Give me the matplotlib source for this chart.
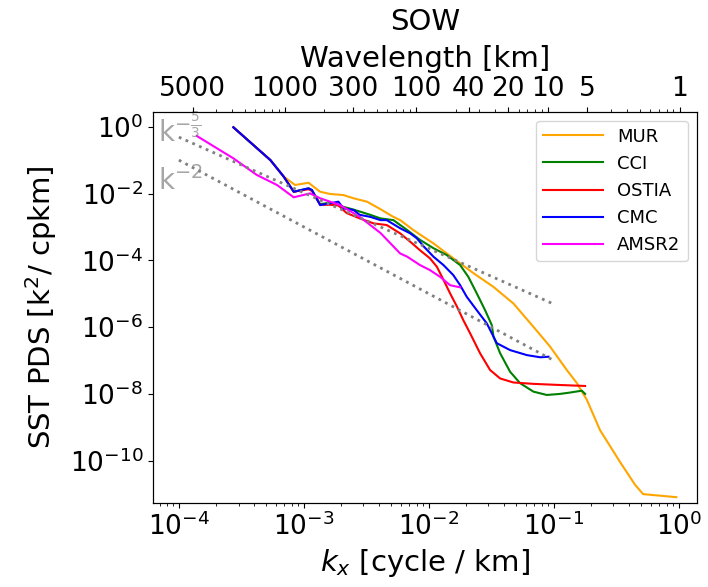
import numpy as np
import matplotlib
matplotlib.use('Agg')
import matplotlib.pyplot as plt

# wavenumber [cycle/km] and PDS values
mur_k = [2.73e-4, 5.4e-4, 6.9e-4, 8.5e-4, 1.09e-3, 1.35e-3, 1.62e-3, 2.07e-3, 2.5e-3,
         3.2e-3, 4.1e-3, 5.2e-3, 5.9e-3, 7.5e-3, 0.0109, 0.0157, 0.0228, 0.0329,
         0.0475, 0.0687, 0.0934, 0.127, 0.153, 0.184, 0.234, 0.339, 0.447, 0.518, 0.955]
mur_p = [0.96, 0.1, 0.032, 0.018, 0.021, 0.0113, 9.7e-3, 9.0e-3, 7.2e-3,
         5.7e-3, 3.4e-3, 2.0e-3, 1.6e-3, 8.1e-4, 3.2e-4, 1.15e-4, 4.1e-5, 1.6e-5,
         5.1e-6, 1.02e-6, 2.6e-7, 5.2e-8, 2.1e-8, 6.6e-9, 8.3e-10, 9.1e-11, 1.9e-11, 1.0e-11, 8.1e-12]

cci_k = [2.73e-4, 5.4e-4, 6.9e-4, 8.3e-4, 1.09e-3, 1.16e-3, 1.35e-3, 1.62e-3, 2.07e-3, 2.5e-3,
         3.4e-3, 4.1e-3, 5.2e-3, 6.7e-3, 8.5e-3, 0.0109, 0.0139, 0.0178, 0.0207, 0.0242,
         0.0282, 0.0319, 0.0329, 0.0372, 0.0447, 0.0537, 0.0687, 0.0879, 0.112, 0.135, 0.1675, 0.178]
cci_p = [0.96, 0.1, 0.032, 0.0113, 0.0143, 0.0127, 4.8e-3, 5.3e-3, 4.0e-3, 3.3e-3,
         2.3e-3, 1.8e-3, 1.6e-3, 8.1e-4, 4.1e-4, 2.3e-4, 1.44e-4, 7.2e-5, 3.2e-5, 1.02e-5,
         3.2e-6, 1.15e-6, 5.2e-7, 1.65e-7, 4.6e-8, 2.1e-8, 1.17e-8, 9.3e-9, 1.0e-8, 1.1e-8, 1.25e-8, 1.0e-8]

ostia_k = [2.73e-4, 5.4e-4, 6.9e-4, 8.3e-4, 1.09e-3, 1.16e-3, 1.35e-3, 1.62e-3, 1.89e-3, 2.2e-3,
           2.8e-3, 3.6e-3, 4.6e-3, 5.9e-3, 7.1e-3, 8.5e-3, 0.0102, 0.0116, 0.0131, 0.0148,
           0.0168, 0.0189, 0.0214, 0.0257, 0.0309, 0.0372, 0.0475, 0.0687, 0.112, 0.178]
ostia_p = [0.96, 0.1, 0.032, 0.0113, 0.0135, 0.012, 4.6e-3, 4.6e-3, 4.4e-3, 2.6e-3,
           1.8e-3, 1.28e-3, 1.14e-3, 6.4e-4, 3.6e-4, 2.0e-4, 1.15e-4, 6.4e-5, 2.6e-5, 1.02e-5,
           4.1e-6, 1.6e-6, 6.5e-7, 1.65e-7, 5.2e-8, 2.9e-8, 2.2e-8, 2.0e-8, 1.85e-8, 1.73e-8]

cmc_k = [2.73e-4, 5.4e-4, 6.9e-4, 8.3e-4, 1.09e-3, 1.16e-3, 1.35e-3, 1.62e-3, 1.89e-3, 2.07e-3,
         2.5e-3, 2.8e-3, 3.4e-3, 4.1e-3, 4.6e-3, 5.9e-3, 7.1e-3, 8.0e-3, 9.1e-3, 0.0109,
         0.0131, 0.0157, 0.0178, 0.0201, 0.0242, 0.0291, 0.035, 0.0447, 0.061, 0.078, 0.0906]
cmc_p = [0.96, 0.1, 0.032, 0.0113, 0.0143, 0.0127, 4.5e-3, 5.1e-3, 5.7e-3, 3.6e-3,
         3.2e-3, 2.3e-3, 2.0e-3, 1.6e-3, 1.6e-3, 9.1e-4, 6.4e-4, 4.6e-4, 2.6e-4, 1.28e-4,
         7.2e-5, 3.6e-5, 1.8e-5, 8.1e-6, 3.2e-6, 1.29e-6, 3.3e-7, 2.05e-7, 1.45e-7, 1.25e-7, 1.3e-7]

amsr2_k = [1.39e-4, 2.73e-4, 4.2e-4, 6.1e-4, 8.3e-4, 1.12e-3, 1.35e-3, 1.95e-3, 2.8e-3,
           4.1e-3, 5.9e-3, 6.7e-3, 8.5e-3, 0.0102, 0.0123, 0.0148, 0.0178]
amsr2_p = [0.53, 0.113, 0.036, 0.018, 7.7e-3, 0.0101, 7.2e-3, 4.5e-3, 2.0e-3,
           6.6e-4, 1.6e-4, 1.29e-4, 7.2e-5, 5.1e-5, 3.2e-5, 1.8e-5, 1.55e-5]

ref_k = [1e-4, 1e-1]
wavelengths = [5000, 1000, 300, 100, 40, 20, 10, 5, 1]

fig = plt.figure(figsize=(7.08, 5.87), dpi=100)
ax = fig.add_axes([0.216, 0.143, 0.768, 0.667])

ax.loglog(mur_k, mur_p, color='orange', lw=1.5, label='MUR')
ax.loglog(cci_k, cci_p, color='green', lw=1.5, label='CCI')
ax.loglog(ostia_k, ostia_p, color='red', lw=1.5, label='OSTIA')
ax.loglog(cmc_k, cmc_p, color='blue', lw=1.5, label='CMC')
ax.loglog(amsr2_k, amsr2_p, color='magenta', lw=1.5, label='AMSR2')

# reference slopes
k = np.array(ref_k)
ax.loglog(k, 1.05e-7 * k ** (-5 / 3), ':', color='gray', lw=2)
ax.loglog(k, 1e-9 * k ** (-2.0), ':', color='gray', lw=2)
ax.text(6.8e-5, 0.75, r'k$^{-\frac{5}{3}}$', color='gray', alpha=0.7, fontsize=20, va='center')
ax.text(6.8e-5, 0.023, r'k$^{-2}$', color='gray', alpha=0.7, fontsize=20, va='center')

ax.set_xlim(6.2e-5, 1.39)
ax.set_ylim(5.4e-12, 2.85)
ax.tick_params(labelsize=19)
ax.set_xlabel(r'$k_x$ [cycle / km]', fontsize=21)
ax.set_ylabel(r'SST PDS [k$^2$/ cpkm]', fontsize=21, labelpad=8)
ax.legend(loc='upper right', fontsize=13, handlelength=3.3)

# top axis with wavelength labels
ax2 = ax.twiny()
ax2.set_xscale('log')
ax2.set_xlim(1.0e-4, 1.35)
ax2.set_xticks([1 / w for w in wavelengths])
ax2.set_xticklabels([str(w) for w in wavelengths])
ax2.tick_params(labelsize=19)
ax2.set_xlabel('Wavelength [km]', fontsize=21, labelpad=6)
ax2.set_title('SOW', fontsize=21, pad=11)

fig.savefig('out.png', dpi=100)
